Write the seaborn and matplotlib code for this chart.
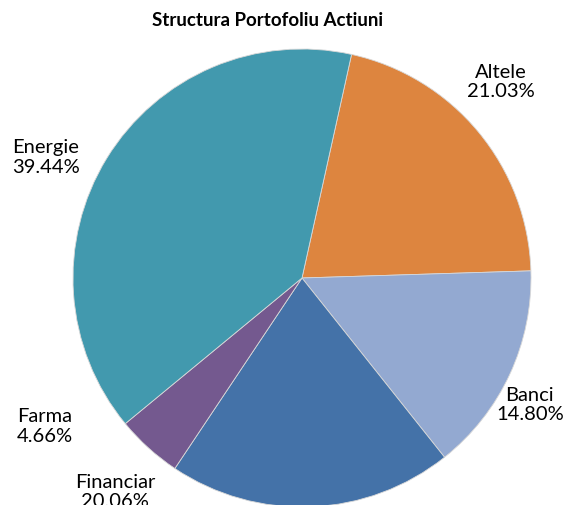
import matplotlib
matplotlib.use("Agg")
import matplotlib.pyplot as plt
import seaborn as sns

# --- data ---
sectors = ['Altele', 'Banci', 'Financiar', 'Farma', 'Energie']
shares = [21.03, 14.80, 20.06, 4.66, 39.44]
colors = ['#DD853F', '#93A9D1', '#4472A8', '#74598F', '#4299AE']

sns.set_style("white")
plt.rcParams['font.family'] = ['Lato', 'DejaVu Sans']

fig = plt.figure(figsize=(5.63, 5.06), dpi=100)
ax = fig.add_axes([0, 0, 1, 1])

wedges, texts = ax.pie(
    shares, colors=colors, startangle=77.5, counterclock=False,
    labels=[f"{s}\n{v:.2f}%" for s, v in zip(sectors, shares)],
    wedgeprops=dict(edgecolor='#d8d8d8', linewidth=0.6),
    textprops=dict(fontsize=14.5, color='black', ha='center', va='center',
                   linespacing=1.2),
)

# Excel-style label placement (outside the pie); Financiar is cut off at the bottom as in the original
label_pos = [(0.87, 0.86), (0.995, -0.55), (-0.815, -0.93),
             (-1.125, -0.645), (-1.12, 0.53)]
for t, p in zip(texts, label_pos):
    t.set_position(p)
    t.set_ha('center')

ax.set_xlim(-302 / 229, (563 - 302) / 229)
ax.set_ylim(-(506 - 279) / 229, 279 / 229)
ax.set_aspect('auto')
ax.axis('off')

fig.text(268 / 563, 1 - 20 / 506, 'Structura Portofoliu Actiuni',
         ha='center', va='center', fontsize=13.5, fontweight='bold',
         color='black')

fig.savefig('out.png', dpi=100)
